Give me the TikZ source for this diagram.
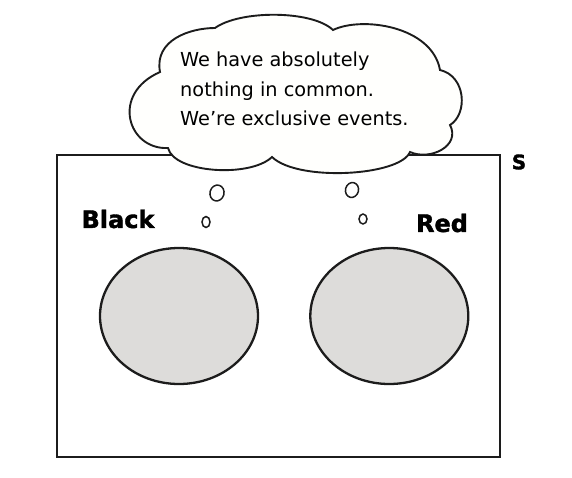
\documentclass[tikz,border=0pt]{standalone}
\usepackage{fontspec}
\setmainfont{DejaVu Sans}
\newfontfamily\heavyfont{DejaVu Sans}[BoldFeatures={FakeBold=1.6}]
\usetikzlibrary{positioning,shapes.geometric}
\definecolor{setgrey}{RGB}{221,220,218}
\definecolor{cloudwhite}{RGB}{255,255,253}
\definecolor{inkblack}{RGB}{28,28,28}
\tikzset{
  eventset/.style={
    ellipse,
    draw=inkblack,
    line width=2.3pt,
    fill=setgrey,
    minimum width=158pt,
    minimum height=136pt,
    inner sep=0pt
  },
  setlabel/.style={
    font=\heavyfont\bfseries\fontsize{24}{30}\selectfont,
    inner sep=0pt
  },
  bubble/.style={
    ellipse,
    draw=inkblack,
    line width=1.5pt,
    fill=white,
    inner sep=0pt
  },
  thoughttext/.style={
    font=\fontsize{19.3}{29.5}\selectfont,
    align=left,
    inner sep=0pt
  },
  cloudline/.style={draw=inkblack, line width=1.9pt, fill=cloudwhite},
}

\begin{document}
\begin{tikzpicture}[x=1pt, y=-1pt, node distance=50pt]
\useasboundingbox (0,0) rectangle (572,477);

% Sample space
\node[draw=inkblack, line width=2.7pt, minimum width=443pt, minimum height=302pt, inner sep=0pt] (space) at (278.5,306) {};
\node[setlabel, font=\heavyfont\bfseries\fontsize{20}{24}\selectfont] (spacelabel) at (519,162) {S};

% The two events
\node[eventset] (blackset) at (179,316) {};
\node[eventset, right=of blackset] (redset) {};
\node[setlabel] (blacklabel) at (118,219) {Black};
\node[setlabel] (redlabel) at (442,223) {Red};

% Thought cloud
\path[cloudline] (160,72)
  .. controls (154,40) and (190,28) .. (215,28)
  .. controls (240,10) and (312,10) .. (333,30)
  .. controls (362,16) and (432,26) .. (440,70)
  .. controls (466,76) and (468,114) .. (450,125)
  .. controls (461,146) and (430,161) .. (410,152)
  .. controls (400,176) and (298,182) .. (272,157)
  .. controls (250,178) and (174,173) .. (168,148)
  .. controls (128,150) and (110,94) .. (160,72) -- cycle;
\node[thoughttext, anchor=north west] (thought) at (180,52) {We have absolutely\\nothing in common.\\We're exclusive events.};

% Thought bubbles
\node[bubble, minimum width=14pt, minimum height=16pt, rotate=-15] (bubbleA) at (217,193) {};
\node[bubble, minimum width=8pt, minimum height=11pt] (bubbleB) at (206,222) {};
\node[bubble, minimum width=13pt, minimum height=15pt, rotate=-15] (bubbleC) at (352,190) {};
\node[bubble, minimum width=8pt, minimum height=10pt] (bubbleD) at (363,219) {};

\end{tikzpicture}
\end{document}
